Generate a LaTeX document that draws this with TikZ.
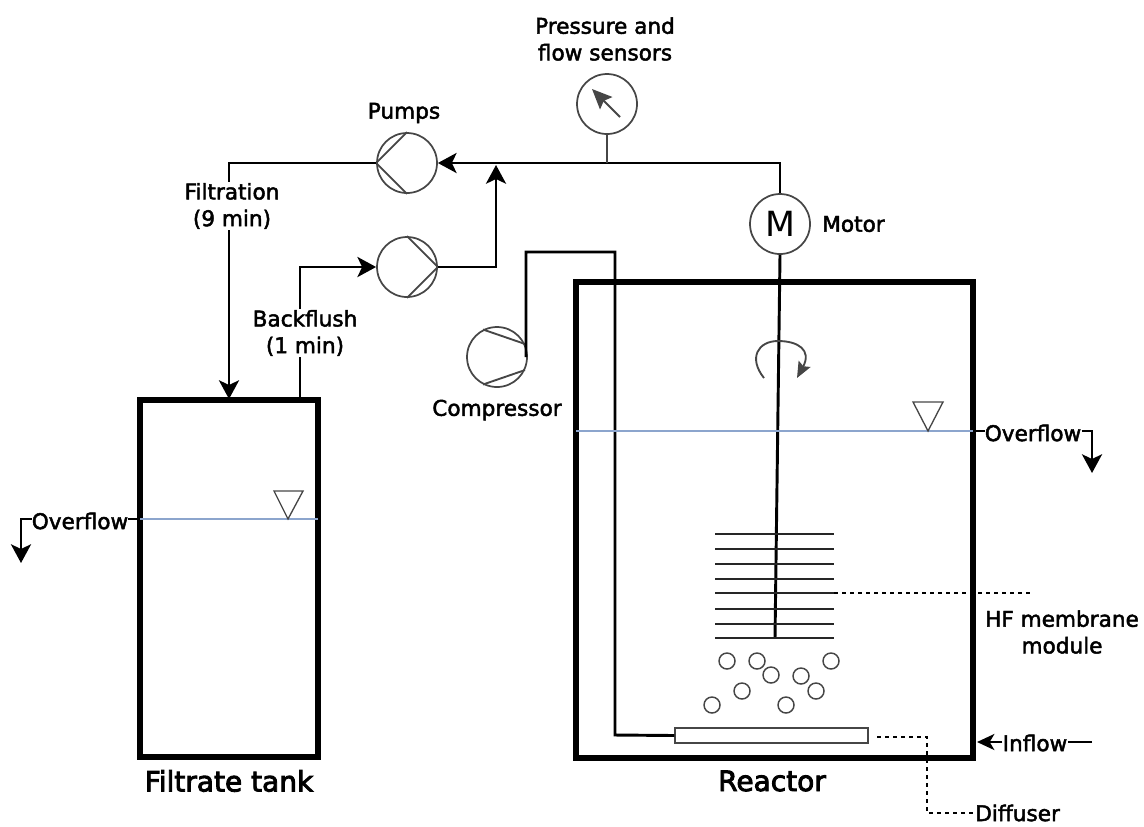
\documentclass[tikz,border=0pt]{standalone}
\usepackage{fontspec}
\usepackage{xcolor}
\usetikzlibrary{positioning,calc,arrows.meta}
\setmainfont{DejaVu Sans}
\newfontfamily\labelfont[FakeBold=2.2]{DejaVu Sans}
\newfontfamily\titlefont[FakeBold=3.2]{DejaVu Sans}
\definecolor{WaterBlue}{RGB}{140,165,205}
\definecolor{RimGray}{RGB}{70,70,70}

\begin{document}
\begin{tikzpicture}[x=0.75pt,y=-0.75pt,
    % Style of the round symbols
    roundnode/.style={circle, draw=RimGray, line width=1.3pt, minimum size=45pt, inner sep=0pt, fill=white},
    % Style of the vessels
    vessel/.style={rectangle, draw=black, line width=4.2pt, inner sep=0pt},
    % Style of the lines
    pipe/.style={draw=black, line width=2.2pt},
    pipearrow/.style={pipe, -{Stealth[length=14pt,width=15pt,inset=3.5pt]}},
    blade/.style={draw=RimGray, line width=1.4pt},
    thinline/.style={draw=black, line width=1.9pt},
    plate/.style={draw=black!85, line width=1.3pt},
    leader/.style={draw=black, line width=1pt, dash pattern=on 3pt off 3pt},
    water/.style={draw=WaterBlue, line width=1pt},
    level/.style={draw=RimGray, line width=1pt},
    bubble/.style={circle, draw=RimGray, line width=1.1pt, minimum size=12pt, inner sep=0pt},
    % Style of the labels
    tag/.style={font=\labelfont\fontsize{16.2}{20}\selectfont, align=center, inner sep=0pt},
    cuttag/.style={tag, fill=white, inner sep=1pt},
    bigtag/.style={font=\titlefont\fontsize{21}{25}\selectfont, inner sep=0pt}
]
    \useasboundingbox (0,0) rectangle (1144,826);

    % --- VESSELS ---
    \node[vessel, minimum width=133.5pt, minimum height=267.75pt] (tank) at (229,578.5) {};
    \node[vessel, minimum width=297.75pt, minimum height=357pt] (reactor) at (774.5,520) {};
    \node[bigtag] (tanklabel) at (229,781) {Filtrate tank};
    \node[bigtag] (reactorlabel) at (772,781) {Reactor};

    % --- ROUND SYMBOLS ---
    \node[roundnode] (gauge) at (607,104) {};
    \node[roundnode] (pumpa) at (407,163) {};
    \node[roundnode] (pumpb) at (407,267) {};
    \node[roundnode] (compressor) at (497,357) {};
    \node[roundnode, font=\fontsize{26}{26}\selectfont] (motor) at (780,224) {M};

    % Inside of the pumps
    \draw[blade] (pumpa.west) -- (pumpa.north);
    \draw[blade] (pumpa.west) -- (pumpa.south);
    \draw[blade] (pumpb.east) -- (pumpb.north);
    \draw[blade] (pumpb.east) -- (pumpb.south);
    \draw[blade] (compressor.25) -- (compressor.117);
    \draw[blade] (compressor.-25) -- (compressor.-117);

    % Needle of the gauge
    \coordinate (needletail) at (620,117);
    \coordinate (needletip) at (592,89);
    \draw[blade, -{Stealth[length=15pt,width=13pt,inset=2.5pt]}] (needletail) -- (needletip);

    % --- PIPES ---
    \coordinate (teeline) at (496,165);
    \coordinate (gaugetee) at (607,163);
    \coordinate (backout) at (300,398);
    \coordinate (tankin) at (229,399);
    \coordinate (comprise) at (526,357);
    \coordinate (pipeturn) at (615,252);
    \coordinate (diffturn) at (615,735);

    \draw[pipearrow] (motor.north) |- (pumpa.east);
    \draw[blade] (gauge.south) -- (gaugetee);
    \draw[pipearrow] (pumpb.east) -| (teeline);
    \draw[pipearrow] (pumpa.west) -| (tankin);
    \draw[pipearrow] (backout) |- (pumpb.west);

    % Air line
    \node[draw=RimGray, line width=1.1pt, minimum width=144.75pt, minimum height=11.25pt, inner sep=0pt] (diffuser) at (771.5,735.5) {};
    \draw[pipe] (comprise) |- (pipeturn) -- (diffturn) -- (diffuser.west);

    % Shaft
    \coordinate (shaftend) at (775,638);
    \draw[pipe] (motor.south) -- (shaftend);

    % Rotation mark
    \coordinate (spinstart) at (764,378);
    \draw[blade, -{Stealth[length=12pt,width=10pt,inset=2pt]}] (spinstart) .. controls (748,358) and (758,341) .. (778,341) .. controls (798,341) and (812,350) .. (797,378);

    % --- WATER LEVELS ---
    \coordinate (reactorleft) at (576,431);
    \coordinate (reactorright) at (973,431);
    \coordinate (tankleft) at (140,519);
    \coordinate (tankright) at (318,519);
    \draw[water] (reactorleft) -- (reactorright);
    \draw[water] (tankleft) -- (tankright);
    \draw[level] (913,402) -- (943,402) -- (928,431) -- cycle;
    \draw[level] (274,491) -- (303,491) -- (288,519) -- cycle;

    % --- MEMBRANE ---
    \foreach \yy in {534,549,564,579,593,609,624,638}
        \draw[plate] (715,\yy) -- (834,\yy);

    % --- BUBBLES ---
    \foreach \bx/\by [count=\bi] in {727/661,757/661,831/661,771/675,801/676,742/691,816/691,712/705,786/705}
        \node[bubble] (bubble\bi) at (\bx,\by) {};

    % --- LABELS ---
    \node[tag] (sensorlabel) at (605,39) {Pressure and\\flow sensors};
    \node[tag] (pumplabel) at (404,113) {Pumps};
    \node[tag, anchor=west] (motorlabel) at (822,224) {Motor};
    \node[cuttag] (filtration) at (232,206) {Filtration\\(9 min)};
    \node[cuttag] (backflush) at (305,333) {Backflush\\(1 min)};
    \node[tag] (compressorlabel) at (497,410) {Compressor};

    % Overflow of the tank
    \node[tag] (overflowa) at (80,521) {Overflow};
    \coordinate (dropa) at (21,563);
    \draw[thinline] (tankleft) -- (overflowa.east |- tankleft);
    \draw[pipearrow] (overflowa.west |- tankleft) -| (dropa);

    % Overflow of the reactor
    \node[tag] (overflowb) at (1033,433) {Overflow};
    \coordinate (dropb) at (1092,473);
    \draw[thinline] (reactorright) -- (overflowb.west |- reactorright);
    \draw[pipearrow] (overflowb.east |- reactorright) -| (dropb);

    % Inflow
    \node[tag] (inflow) at (1035,743) {Inflow};
    \coordinate (inflowstart) at (1092,742);
    \coordinate (inflowtip) at (977,742);
    \draw[thinline] (inflowstart) -- (inflow.east |- inflowstart);
    \draw[thinline, -{Stealth[length=13pt,width=12pt,inset=3.5pt]}] (inflow.west |- inflowtip) -- (inflowtip);

    % Membrane and diffuser leaders
    \node[tag] (hflabel) at (1062,632) {HF membrane\\module};
    \coordinate (plateend) at (834,593);
    \coordinate (plateleader) at (1030,593);
    \draw[leader] (plateend) -- (plateleader);

    \node[tag, anchor=west] (diffuserlabel) at (975,813) {Diffuser};
    \coordinate (diffstart) at (877,737);
    \coordinate (diffdown) at (927,737);
    \draw[leader] (diffstart) -- (diffdown) |- (diffuserlabel.west);
\end{tikzpicture}
\end{document}
